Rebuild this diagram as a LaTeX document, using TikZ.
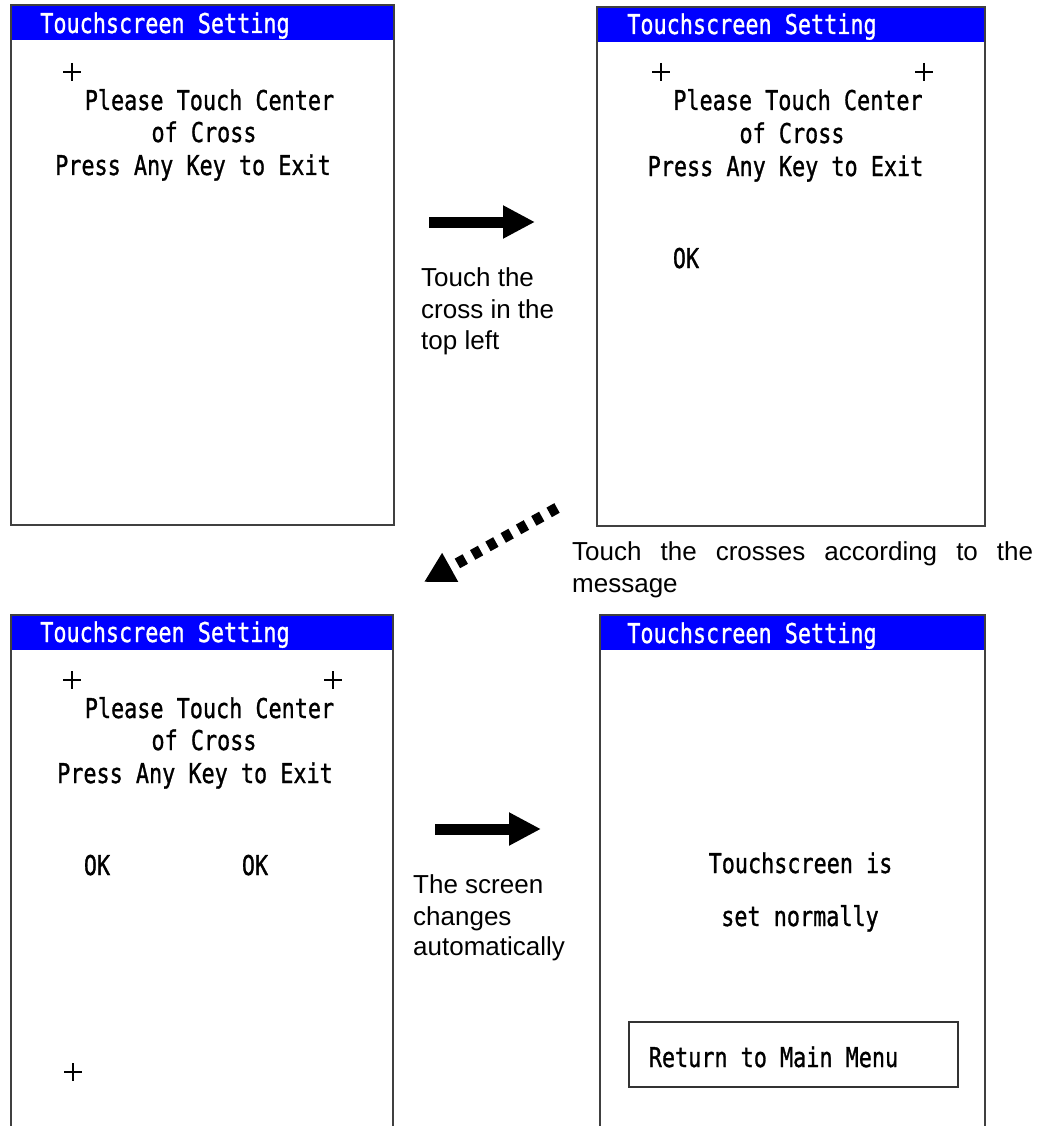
\documentclass[tikz,border=0pt]{standalone}
\usepackage{graphicx}
\usepackage{fontspec}
\setmainfont{Liberation Sans}
\newfontfamily\scrfont{DejaVu Sans Mono}[FakeBold=1.2]
\usetikzlibrary{arrows.meta}
\newcommand\scrtxt[1]{\scalebox{1}[1.25]{\scrfont\fontsize{21.8}{24}\selectfont #1}}
\newcommand\crossat[2]{\draw[crossline,shift={(#1,#2)}] (-9,0) -- (9,0) (0,-9) -- (0,9);}
\tikzset{
  frame/.style={draw=black!75,line width=1.5pt},
  titlebar/.style={fill=blue,draw=none},
  scr/.style={inner sep=0pt,anchor=base},
  ttl/.style={scr,text=white},
  note/.style={inner sep=0pt,anchor=base west,font=\fontsize{26}{32}\selectfont},
  crossline/.style={draw=black,line width=1.1pt},
  bigarrow/.style={line width=11pt,-{Triangle[length=32pt,width=31pt]}},
  dotarrow/.style={line width=11pt,dash pattern=on 9pt off 8.5pt,-{Triangle[length=30pt,width=31pt]}},
  retbox/.style={draw=black!80,line width=1.2pt}
}
\begin{document}
\begin{tikzpicture}[x=1pt,y=-1pt]
\useasboundingbox[fill=white] (0,0) rectangle (1045,1126);

% ---------- Screen 1 (top left)
\fill[titlebar] (11,5) rectangle (394,40);
\draw[frame] (11,5) rectangle (394,525);
\node[ttl] (t1) at (165,33) {\scrtxt{Touchscreen Setting}};
\crossat{72}{72}
\node[scr] (p1) at (209.5,110) {\scrtxt{Please Touch Center}};
\node[scr] (c1) at (204,142) {\scrtxt{of Cross}};
\node[scr] (e1) at (193,175) {\scrtxt{Press Any Key to Exit}};

% ---------- Screen 2 (top right)
\fill[titlebar] (597,7) rectangle (985,42);
\draw[frame] (597,7) rectangle (985,526);
\node[ttl] (t2) at (752,34) {\scrtxt{Touchscreen Setting}};
\crossat{661}{72}
\crossat{924}{72}
\node[scr] (p2) at (798,110) {\scrtxt{Please Touch Center}};
\node[scr] (c2) at (792,143) {\scrtxt{of Cross}};
\node[scr] (e2) at (785.5,176) {\scrtxt{Press Any Key to Exit}};
\node[scr] (ok2) at (686,268) {\scrtxt{OK}};

% ---------- Screen 3 (bottom left)
\fill[titlebar] (11,615) rectangle (393,650);
\draw[frame] (11,1127) -- (11,615) -- (393,615) -- (393,1127);
\node[ttl] (t3) at (165,642) {\scrtxt{Touchscreen Setting}};
\crossat{72}{680}
\crossat{333}{680}
\crossat{73}{1072}
\node[scr] (p3) at (209.5,718) {\scrtxt{Please Touch Center}};
\node[scr] (c3) at (204,750) {\scrtxt{of Cross}};
\node[scr] (e3) at (195,783) {\scrtxt{Press Any Key to Exit}};
\node[scr] (ok3a) at (97,875) {\scrtxt{OK}};
\node[scr] (ok3b) at (255,875) {\scrtxt{OK}};

% ---------- Screen 4 (bottom right)
\fill[titlebar] (600,615) rectangle (985,650);
\draw[frame] (600,1127) -- (600,615) -- (985,615) -- (985,1127);
\node[ttl] (t4) at (752,643) {\scrtxt{Touchscreen Setting}};
\node[scr] (s4a) at (800.5,873) {\scrtxt{Touchscreen is}};
\node[scr] (s4b) at (800,926) {\scrtxt{set normally}};
\draw[retbox] (629,1022) rectangle (958,1087);
\node[scr] (ret) at (773.5,1067) {\scrtxt{Return to Main Menu}};

% ---------- Arrows
\coordinate (a1s) at (429,222);
\coordinate (a1e) at (535,222);
\draw[bigarrow] (a1s) -- (a1e);
\coordinate (a2s) at (557,508);
\coordinate (a2e) at (424,582);
\draw[dotarrow] (a2s) -- (a2e);
\coordinate (a3s) at (435,829);
\coordinate (a3e) at (541,829);
\draw[bigarrow] (a3s) -- (a3e);

% ---------- Notes
\node[note] (n1a) at (421,286) {Touch the};
\node[note] (n1b) at (421,318) {cross in the};
\node[note] (n1c) at (421,349) {top left};
\node[note] (n2a) at (572,560) {\makebox[461pt][s]{Touch the crosses according to the}};
\node[note] (n2b) at (572,592) {message};
\node[note] (n3a) at (413,893) {The screen};
\node[note] (n3b) at (413,925) {changes};
\node[note] (n3c) at (413,955) {automatically};
\end{tikzpicture}
\end{document}
